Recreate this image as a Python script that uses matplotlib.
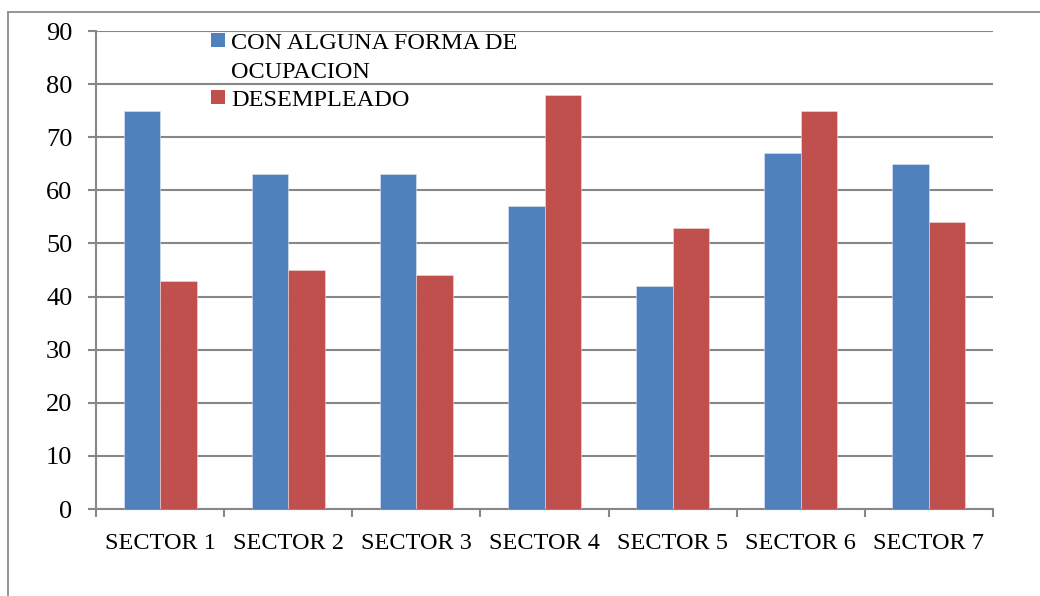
import matplotlib
matplotlib.use("Agg")
import matplotlib.pyplot as plt
import numpy as np
from matplotlib.patches import Rectangle
from matplotlib.lines import Line2D

categories = ["SECTOR 1", "SECTOR 2", "SECTOR 3", "SECTOR 4", "SECTOR 5", "SECTOR 6", "SECTOR 7"]
ocupacion = [75, 63, 63, 57, 42, 67, 65]
desempleado = [43, 45, 44, 78, 53, 75, 54]
series_labels = ["CON ALGUNA FORMA DE\nOCUPACION", "DESEMPLEADO"]
colors = ["#4F81BD", "#C0504D"]
yticks = list(range(0, 91, 10))

plt.rcParams['font.family'] = ['Liberation Serif', 'DejaVu Serif']
FS = 17.5
GRAY = "#878787"

W, H = 1040, 596
fig = plt.figure(figsize=(W/100, H/100), dpi=100)
ax = fig.add_axes([96/W, (H-509)/H, (993-96)/W, (509-31)/H])

x = np.arange(len(categories))
bw = 0.285
ax.bar(x - bw/2, ocupacion, bw, color=colors[0], edgecolor="#dfe6f0", linewidth=0.4, zorder=3)
ax.bar(x + bw/2, desempleado, bw, color=colors[1], edgecolor="#f0dcdc", linewidth=0.4, zorder=3)

ax.set_xlim(-0.5, len(categories) - 0.5)
ax.set_ylim(0, 90)
ax.set_yticks(yticks)
ax.set_yticklabels([str(v) for v in yticks], fontsize=19)
ax.yaxis.grid(True, color=GRAY, linewidth=1.5, zorder=0)
ax.set_axisbelow(True)

ax.set_xticks(np.arange(-0.5, len(categories), 1.0))
ax.set_xticklabels([])
ax.set_xticks(x, minor=True)
ax.set_xticklabels(categories, minor=True, fontsize=FS)
ax.tick_params(axis='x', which='minor', length=0, pad=17.5)
ax.tick_params(axis='x', which='major', length=6, width=1.5, color=GRAY, direction='out')
ax.tick_params(axis='y', length=6, width=1.5, color=GRAY, direction='out', pad=11)

for s in ['top', 'right']:
    ax.spines[s].set_visible(False)
for s in ['left', 'bottom']:
    ax.spines[s].set_color(GRAY)
    ax.spines[s].set_linewidth(1.5)

# legend (manual)
def fx(px):
    return px / W
def fy(py):
    return 1 - py / H

fig.patches.append(Rectangle((fx(211), fy(47)), 14/W, 14/H, transform=fig.transFigure,
                             facecolor=colors[0], edgecolor='none', figure=fig))
fig.patches.append(Rectangle((fx(211), fy(104)), 14/W, 14/H, transform=fig.transFigure,
                             facecolor=colors[1], edgecolor='none', figure=fig))
fig.text(fx(231), fy(49), "CON ALGUNA FORMA DE", fontsize=FS, va='baseline', ha='left')
fig.text(fx(231), fy(78), "OCUPACION", fontsize=FS, va='baseline', ha='left')
fig.text(fx(231), fy(106), series_labels[1], fontsize=FS, va='baseline', ha='left')

# outer frame
fig.lines.append(Line2D([fx(8), fx(8)], [fy(12), 0], transform=fig.transFigure, color="#8c8c8c", linewidth=1.3))
fig.lines.append(Line2D([fx(8), 1], [fy(12), fy(12)], transform=fig.transFigure, color="#8c8c8c", linewidth=1.3))

fig.savefig("out.png", dpi=100)
